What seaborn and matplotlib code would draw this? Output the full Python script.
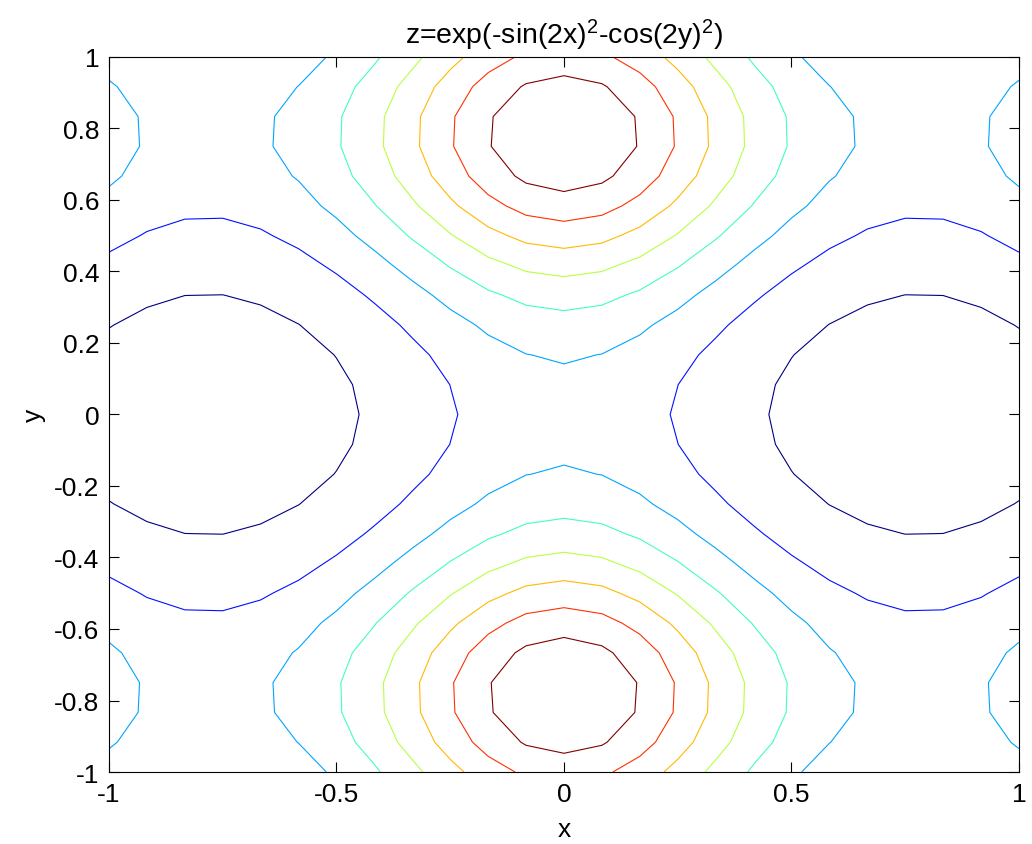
import numpy as np
import matplotlib
matplotlib.use("Agg")
import matplotlib.pyplot as plt
import seaborn as sns

# grid used by the reference (step 1/12) and the function named in the title
x_vals = np.linspace(-1, 1, 25)
y_vals = np.linspace(-1, 1, 25)
levels = [0.2, 0.3, 0.4, 0.5, 0.6, 0.7, 0.8, 0.9]
x_ticks = [-1, -0.5, 0, 0.5, 1]
x_ticklabels = ["-1", "-0.5", "0", "0.5", "1"]
y_ticks = [-1, -0.8, -0.6, -0.4, -0.2, 0, 0.2, 0.4, 0.6, 0.8, 1]
y_ticklabels = ["-1", "-0.8", "-0.6", "-0.4", "-0.2", "0", "0.2", "0.4", "0.6", "0.8", "1"]

X, Y = np.meshgrid(x_vals, y_vals)
Z = np.exp(-np.sin(2 * X) ** 2 - np.cos(2 * Y) ** 2)

sns.set_theme(style="white")
plt.rcParams["font.family"] = ["Liberation Sans", "DejaVu Sans"]
plt.rcParams["mathtext.fontset"] = "custom"
plt.rcParams["mathtext.rm"] = "Liberation Sans"
plt.rcParams["mathtext.it"] = "Liberation Sans"

fig = plt.figure(figsize=(10.32, 8.45), dpi=100)
ax = fig.add_axes([0.1056, 0.0852, 0.9874 - 0.1056, 0.9314 - 0.0852])

cmap = matplotlib.colormaps["jet"]
ax.contour(X, Y, Z, levels=levels, cmap=cmap, vmin=0.2, vmax=0.9, linewidths=0.8)

ax.set_xlim(-1, 1)
ax.set_ylim(-1, 1)
ax.set_xticks(x_ticks)
ax.set_xticklabels(x_ticklabels)
ax.set_yticks(y_ticks)
ax.set_yticklabels(y_ticklabels)
ax.tick_params(direction="in", length=7, width=0.8, color="black",
               labelsize=19, top=True, right=True, bottom=True, left=True,
               pad=7, labelcolor="black")
for s in ax.spines.values():
    s.set_color("black")
    s.set_linewidth(0.8)
    s.set_visible(True)

ax.set_xlabel("x", fontsize=19, color="black", labelpad=8)
ax.set_ylabel("y", fontsize=19, color="black", labelpad=6)
ax.set_title(r"z=exp(-sin(2x)$^{2}$-cos(2y)$^{2}$)", fontsize=20.5,
             color="black", pad=10)

fig.savefig("out.png", dpi=100, facecolor="white")
